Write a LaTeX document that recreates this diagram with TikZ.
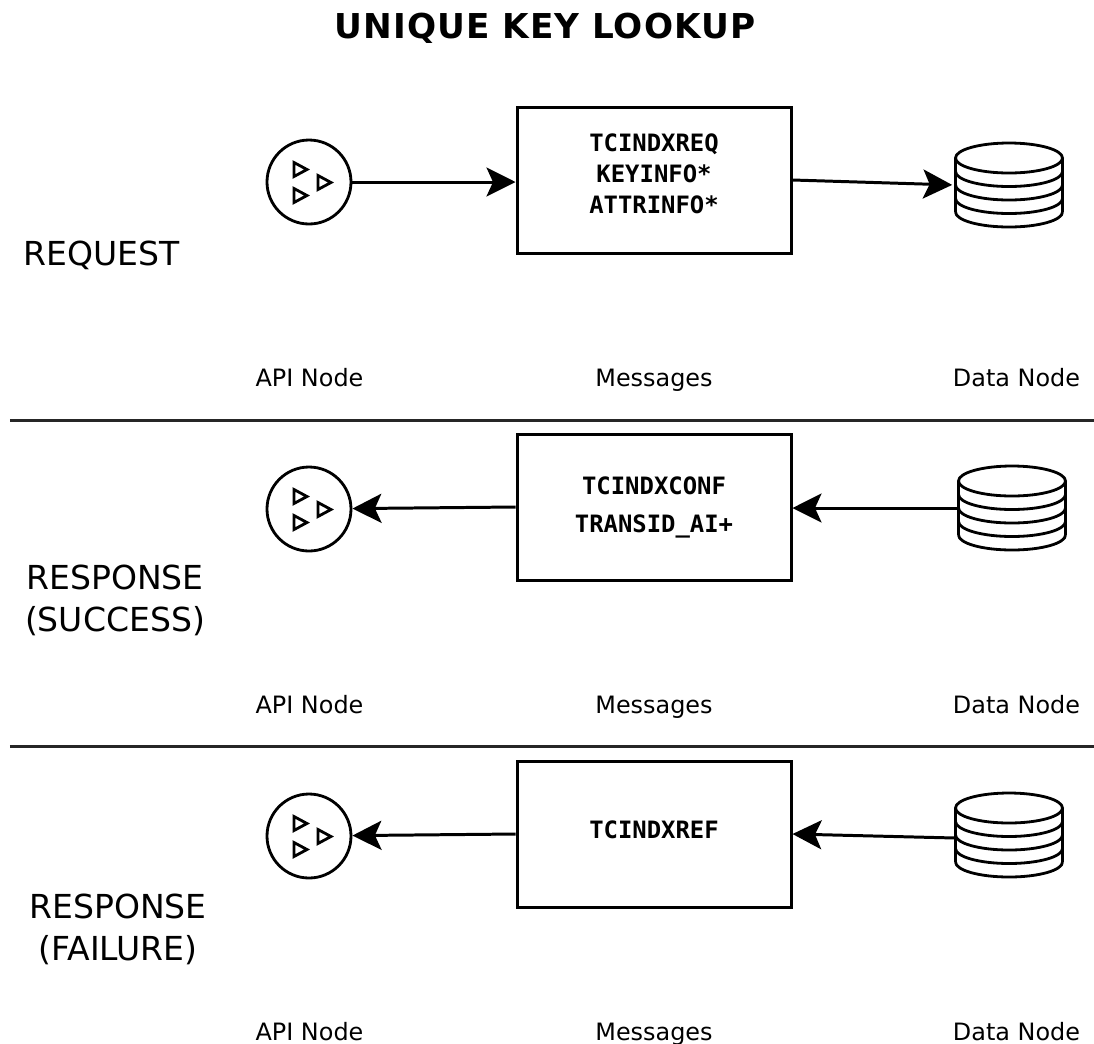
\documentclass[tikz,border=0pt]{standalone}
\usepackage{fontspec}
\usepackage{tikz}
\usetikzlibrary{arrows.meta}
\setmainfont{DejaVu Sans}
\setmonofont{DejaVu Sans Mono}

\tikzset{
  msgarrow/.style={-{Stealth[length=0.58cm,width=0.58cm,inset=0.13cm]},line width=1.7pt},
  rowline/.style={line width=1.7pt,black!85},
  msgbox/.style={draw,line width=1.7pt,minimum width=5.48cm,minimum height=2.92cm,inner sep=0pt},
  msgtext/.style={font=\ttfamily\bfseries\fontsize{13.6}{17.6}\selectfont,align=center,anchor=north},
  apinode/.style={circle,draw,line width=1.6pt,minimum size=1.68cm,inner sep=0pt},
  datanode/.style={minimum width=2.14cm,minimum height=1.68cm,inner sep=0pt},
  sidelabel/.style={font=\fontsize{18.8}{24}\selectfont,align=center},
  collabel/.style={font=\fontsize{13.6}{15}\selectfont,anchor=base},
  tri/.style={line width=1.6pt,line join=miter}
}

% one triangle of the api node icon
\newcommand{\apitri}[2]{
  \draw[tri] (#1,#2) ++(0,-0.14) -- ++(0,0.28) -- ++(0.26,-0.14) -- cycle;
}

\begin{document}
\begin{tikzpicture}
  \useasboundingbox (0,0) rectangle (21.88,-20.86);

  \node[font=\bfseries\fontsize{19.5}{20}\selectfont] (title) at (10.9,-0.56) {\addfontfeature{LetterSpace=3}UNIQUE KEY LOOKUP};

  \coordinate (lineAa) at (0.2,-8.4);
  \coordinate (lineAb) at (21.88,-8.4);
  \coordinate (lineBa) at (0.2,-14.92);
  \coordinate (lineBb) at (21.88,-14.92);
  \draw[rowline] (lineAa) -- (lineAb);
  \draw[rowline] (lineBa) -- (lineBb);

  % three rows: name, y of row, x of db, y of db
  \foreach \row/\y/\xdb/\ydb in {a/0/20.18/0.06,b/6.54/20.24/-0.02,c/13.08/20.18/-0.02}{
    \begin{scope}[yshift=-\y cm]
      \node[msgbox] (box\row) at (13.08,-3.6) {};
      \node[apinode] (api\row) at (6.18,-3.64) {};
      \apitri{5.88}{-3.39}
      \apitri{6.36}{-3.65}
      \apitri{5.88}{-3.91}
      \node[datanode] (data\row) at (\xdb,-3.64-\ydb) {};
      % database icon
      \begin{scope}[shift={(data\row.center)},line width=1.6pt]
        \draw (-1.07,-0.54) -- (-1.07,0.54);
        \draw (1.07,-0.54) -- (1.07,0.54);
        \draw (0,0.54) ellipse (1.07 and 0.3);
        \foreach \k in {1,2,3,4}{
          \draw (-1.07,{0.54-0.27*\k}) arc (180:360:1.07 and 0.3);
        }
      \end{scope}
      \node[collabel] (api\row label) at (6.19,-7.72) {API Node};
      \node[collabel] (msg\row label) at (13.08,-7.72) {Messages};
      \node[collabel] (data\row label) at (20.33,-7.72) {Data Node};
    \end{scope}
  }

  \node[msgtext] (boxatext) at (13.08,-2.55) {TCINDXREQ\\KEYINFO*\\ATTRINFO*};
  \node[msgtext] (boxbtext) at (13.08,-9.42) {TCINDXCONF\\[3.5pt]TRANSID\_AI+};
  \node[msgtext] (boxctext) at (13.08,-16.3) {TCINDXREF};

  \node[sidelabel] (reqlabel) at (2.03,-5.11) {REQUEST};
  \node[sidelabel] (suclabel) at (2.3,-12) {RESPONSE\\(SUCCESS)};
  \node[sidelabel] (faillabel) at (2.36,-18.58) {RESPONSE\\(FAILURE)};

  \draw[msgarrow] (apia) -- (boxa.west |- apia);
  \draw[msgarrow,shorten >=0.06cm] (boxa.east) -- (dataa.west);
  \draw[msgarrow] (datab.west) -- (boxb.east |- datab);
  \draw[msgarrow] (boxb.west) -- (apib);
  \draw[msgarrow] ([yshift=-0.06cm]datac.west) -- (boxc.east);
  \draw[msgarrow] (boxc.west) -- (apic);
\end{tikzpicture}
\end{document}
